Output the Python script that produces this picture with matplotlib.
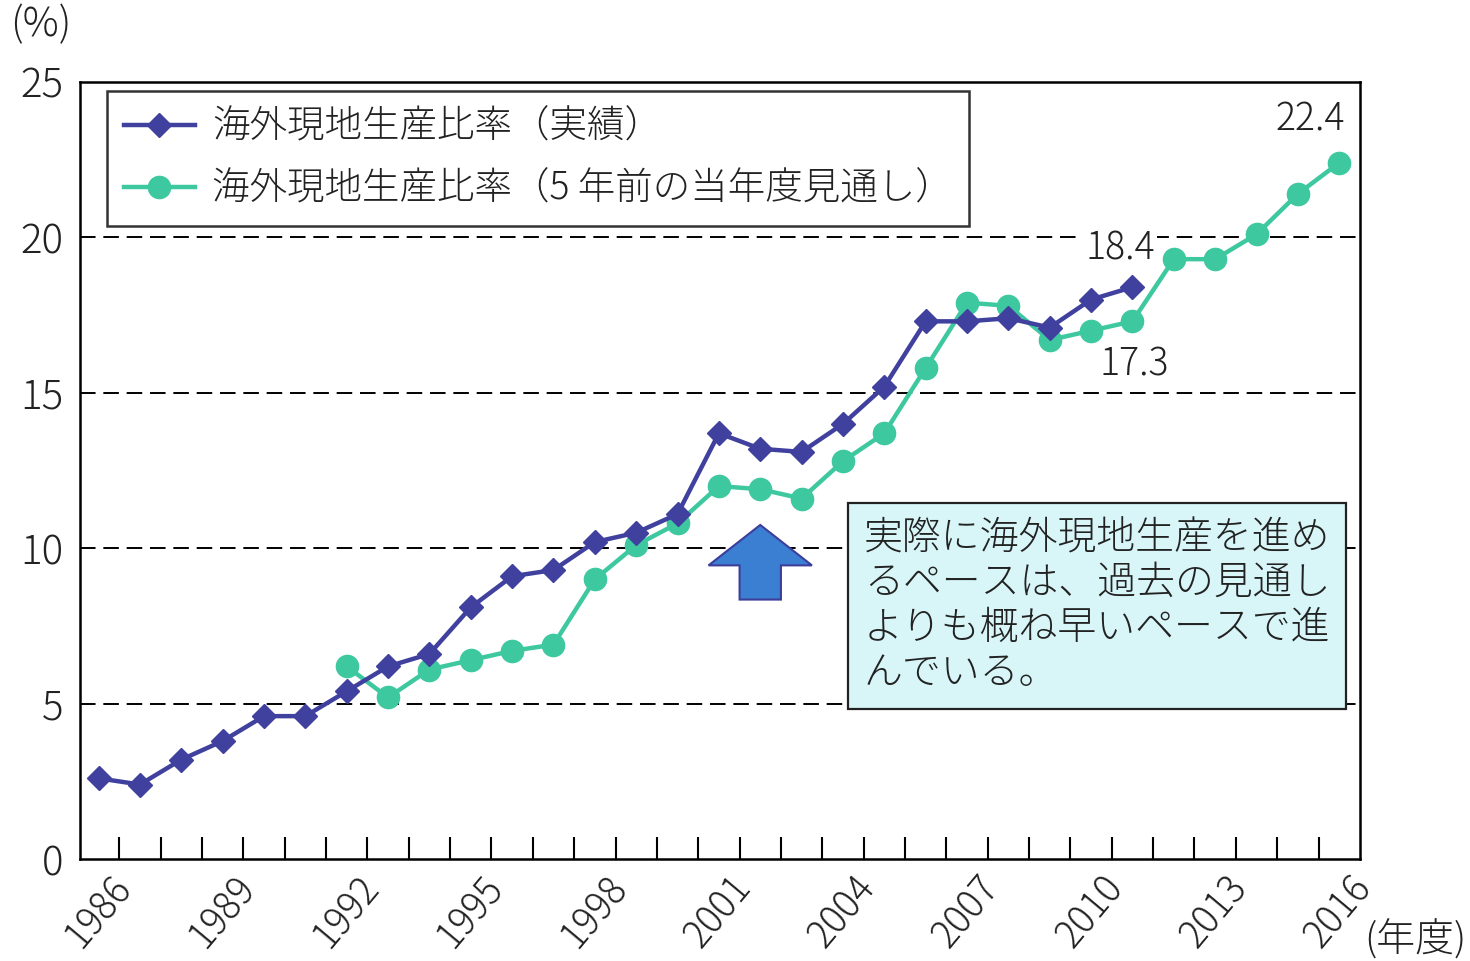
import numpy as np
import matplotlib
matplotlib.use("Agg")
import matplotlib.pyplot as plt
from matplotlib.patches import FancyArrow

plt.rcParams['font.family'] = ['Noto Sans CJK JP', 'DejaVu Sans']
plt.rcParams['font.weight'] = 'light'

# ================= DATA =================
actual_years = list(range(1986, 2012))
actual_ratio = [2.6, 2.4, 3.2, 3.8, 4.6, 4.6, 5.4, 6.2, 6.6, 8.1,
                9.1, 9.3, 10.2, 10.5, 11.1, 13.7, 13.2, 13.1, 14.0, 15.2,
                17.3, 17.3, 17.4, 17.1, 18.0, 18.4]

outlook_years = list(range(1992, 2017))
outlook_ratio = [6.2, 5.2, 6.1, 6.4, 6.7, 6.9, 9.0, 10.1, 10.8, 12.0,
                 11.9, 11.6, 12.8, 13.7, 15.8, 17.9, 17.8, 16.7, 17.0, 17.3,
                 19.3, 19.3, 20.1, 21.4, 22.4]

label_actual = "海外現地生産比率（実績）"
label_outlook = "海外現地生産比率（5 年前の当年度見通し）"
note_text = ("実際に海外現地生産を進め\n"
             "るペースは、過去の見通し\n"
             "よりも概ね早いペースで進\n"
             "んでいる。")

xtick_years = list(range(1986, 2017, 3))
ytick_values = [0, 5, 10, 15, 20, 25]
# ========================================

COL_ACTUAL = "#40409e"
COL_OUTLOOK = "#3ec8a0"
TXT = "#222222"

fig = plt.figure(figsize=(14.7, 9.61), dpi=100)
ax = fig.add_axes([0.0544, 0.106, 0.8707, 0.8087])

# grid lines
for v in ytick_values[1:-1]:
    ax.axhline(v, color="black", linestyle=(0, (8, 4)), linewidth=1.4, zorder=1)

ax.plot(outlook_years, outlook_ratio, color=COL_OUTLOOK, linewidth=3.2,
        marker="o", markersize=16, label=label_outlook, zorder=3)
ax.plot(actual_years, actual_ratio, color=COL_ACTUAL, linewidth=3.2,
        marker="D", markersize=12.5, label=label_actual, zorder=4)

ax.set_xlim(1985.55, 2016.5)
ax.set_ylim(0, 25)

# x ticks: minor marks between years, labels at every 3rd year
ax.set_xticks(xtick_years)
ax.set_xticklabels([str(y) for y in xtick_years], rotation=50, ha="center",
                   fontsize=27, color=TXT)
ax.set_xticks(np.arange(1986.5, 2016.5, 1), minor=True)
ax.tick_params(axis="x", which="major", length=0, pad=7)
ax.tick_params(axis="x", which="minor", direction="in", length=16, width=1.5)

ax.set_yticks(ytick_values)
ax.set_yticklabels([str(v) for v in ytick_values], fontsize=29, color=TXT)
ax.tick_params(axis="y", length=0, pad=12)

for s in ax.spines.values():
    s.set_linewidth(1.8)

# legend
handles, labels = ax.get_legend_handles_labels()
leg = ax.legend(handles[::-1], labels[::-1], loc="upper left",
                bbox_to_anchor=(0.021, 0.989), prop={"size": 27, "weight": "light"},
                frameon=True, fancybox=False, edgecolor="black", handlelength=1.9,
                handletextpad=0.45, borderpad=0.45, labelspacing=0.6,
                borderaxespad=0.0)
leg.get_frame().set_linewidth(1.8)
for t in leg.get_texts():
    t.set_color(TXT)

# value labels
ax.text(outlook_years[-1] - 0.7, outlook_ratio[-1] + 0.75, f"{outlook_ratio[-1]}",
        fontsize=27, ha="center", va="bottom", color=TXT)
ax.text(actual_years[-1] - 0.3, actual_ratio[-1] + 0.6, f"{actual_ratio[-1]}",
        fontsize=27, ha="center", va="bottom", color=TXT, zorder=2,
        bbox=dict(boxstyle="square,pad=0.05", facecolor="white", edgecolor="none"))
ax.text(outlook_years[19] + 0.05, outlook_ratio[19] - 0.75, f"{outlook_ratio[19]}",
        fontsize=27, ha="center", va="top", color=TXT)

# arrow
arrow = FancyArrow(2002.0, 8.35, 0, 2.4, width=1.0, head_width=2.5,
                   head_length=1.3, length_includes_head=True,
                   facecolor="#3a7fd2", edgecolor="#3d3d9a", linewidth=1.5,
                   zorder=5)
ax.add_patch(arrow)

# note box
ax.text(2004.5, 10.95, note_text, fontsize=28, ha="left", va="top",
        linespacing=1.18, zorder=6, color=TXT,
        bbox=dict(boxstyle="square,pad=0.4", facecolor="#d8f6f8",
                  edgecolor="#222222", linewidth=1.6))

fig.text(0.007, 0.952, "(%)", fontsize=29, ha="left", va="bottom", color=TXT)
fig.text(0.928, 0.0, "(年度)", fontsize=28, ha="left", va="bottom", color=TXT)

fig.savefig("out.png", dpi=100)
